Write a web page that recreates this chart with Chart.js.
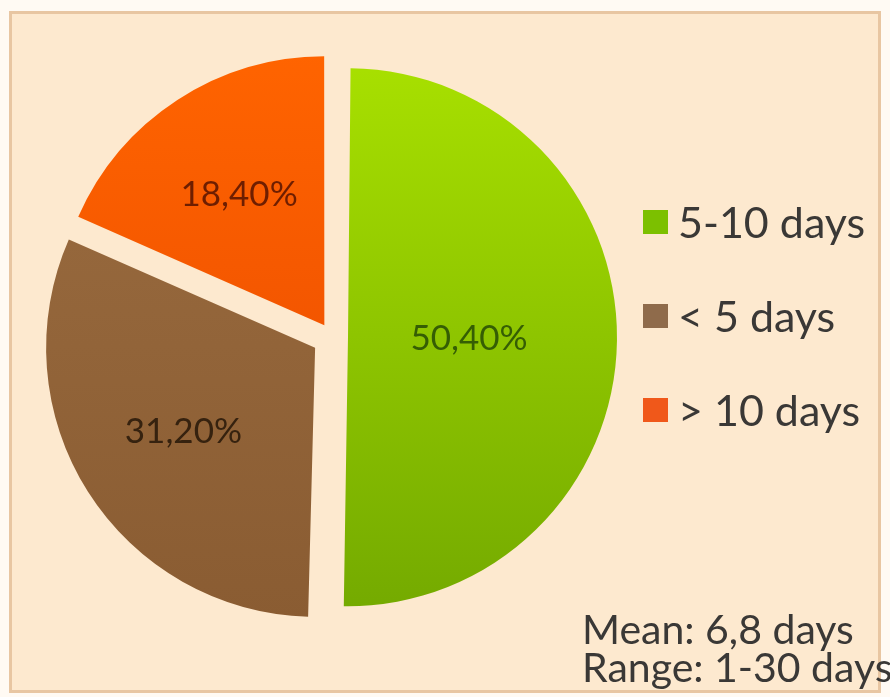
<!DOCTYPE html>
<html>

<head>
    <meta charset="utf-8" />
    <title>Hospital stay</title>
    <style>
        body { margin: 0; background: #fffaf3; }
        .marco {
            position: absolute; left: 9px; top: 11px; width: 866px; height: 676px;
            background: #fde9cf; border: 3px solid #e8c6a2;
        }
        #chart { position: absolute; left: 0; top: 0; }
    </style>
</head>

<body>
    <div class="marco"></div>
    <canvas id="chart" width="890" height="697"></canvas>

    <script src="https://cdn.jsdelivr.net/npm/chart.js"></script>
    <script type="text/javascript">

        // Datos del gráfico
        const categorias = ['5-10 days', '< 5 days', '> 10 days'];
        const porcentajes = [50.4, 31.2, 18.4];
        const etiquetas = ['50,40%', '31,20%', '18,40%'];
        const notas = ['Mean: 6,8 days', 'Range: 1-30 days'];

        // Colores (arriba / abajo del degradado) y color del texto de cada porción
        const colorArriba = ['#a8e000', '#9a6c40', '#ff6400'];
        const colorAbajo = ['#74aa00', '#8a5c32', '#e84800'];
        const colorLeyenda = ['#7cc000', '#8f6b4b', '#f0581a'];
        const colorTexto = ['#355e04', '#36220f', '#6e1e00'];
        // Desplazamiento en píxeles de cada porción hacia fuera
        const separacion = [16, 20, 14];
        const posTexto = [0.45, 0.58, 0.58];
        const RADIO = 269;

        // Chart.js v4 traslada la porción offset/4 y además agranda su radio
        // offset/4 * (1 - sin(ángulo)); ese agrandamiento se quita después
        function extraRadio(i) {
            const total = porcentajes.reduce((a, b) => a + b, 0);
            const angulo = Math.min(Math.PI, 2 * Math.PI * porcentajes[i] / total);
            return separacion[i] * (1 - Math.sin(angulo));
        }

        const mismoRadio = {
            id: 'mismoRadio',
            afterDatasetUpdate(chart) {
                chart.getDatasetMeta(0).data.forEach((arc, i) => {
                    arc.outerRadius = RADIO - extraRadio(i);
                });
            }
        };

        function degradado(ctx) {
            const chart = ctx.chart;
            if (!chart.chartArea) return colorArriba[ctx.dataIndex];
            const g = chart.ctx.createLinearGradient(0, 60, 0, 610);
            g.addColorStop(0, colorArriba[ctx.dataIndex]);
            g.addColorStop(1, colorAbajo[ctx.dataIndex]);
            return g;
        }

        // Porcentajes dentro de cada porción
        const textoPorciones = {
            id: 'textoPorciones',
            afterDatasetsDraw(chart) {
                const ctx = chart.ctx;
                const meta = chart.getDatasetMeta(0);
                ctx.save();
                ctx.font = '35px Lato';
                ctx.textAlign = 'center';
                ctx.textBaseline = 'middle';
                meta.data.forEach((arc, i) => {
                    const p = arc.getProps(['x', 'y', 'startAngle', 'endAngle']);
                    const medio = (p.startAngle + p.endAngle) / 2;
                    const d = separacion[i] + posTexto[i] * RADIO;
                    ctx.fillStyle = colorTexto[i];
                    ctx.fillText(etiquetas[i], p.x + Math.cos(medio) * d, p.y + Math.sin(medio) * d);
                });
                ctx.restore();
            }
        };

        // Leyenda a la derecha y notas abajo
        const leyendaLateral = {
            id: 'leyendaLateral',
            afterDraw(chart) {
                const ctx = chart.ctx;
                ctx.save();
                ctx.font = '43px Lato';
                ctx.textBaseline = 'alphabetic';
                categorias.forEach((c, i) => {
                    const y = 222 + i * 94;
                    ctx.fillStyle = colorLeyenda[i];
                    ctx.fillRect(643, y - 12, 25, 24);
                    ctx.fillStyle = '#3a3836';
                    ctx.fillText(c, 678, y + 16);
                });
                ctx.font = '41px Lato';
                notas.forEach((t, i) => {
                    ctx.fillText(t, 582, 644 + i * 38);
                });
                ctx.restore();
            }
        };

        const ctx = document.getElementById('chart').getContext('2d');
        new Chart(ctx, {
            type: 'pie',
            data: {
                labels: categorias,
                datasets: [{
                    data: porcentajes,
                    backgroundColor: degradado,
                    borderWidth: 0,
                    offset: separacion.map(s => s * 4)
                }]
            },
            options: {
                responsive: false,
                animation: false,
                radius: RADIO,
                layout: { padding: { left: 40, right: 266, top: 40, bottom: 63 } },
                plugins: {
                    legend: { display: false },
                    tooltip: { enabled: false }
                }
            },
            plugins: [mismoRadio, textoPorciones, leyendaLateral]
        });

    </script>

</body>

</html>
